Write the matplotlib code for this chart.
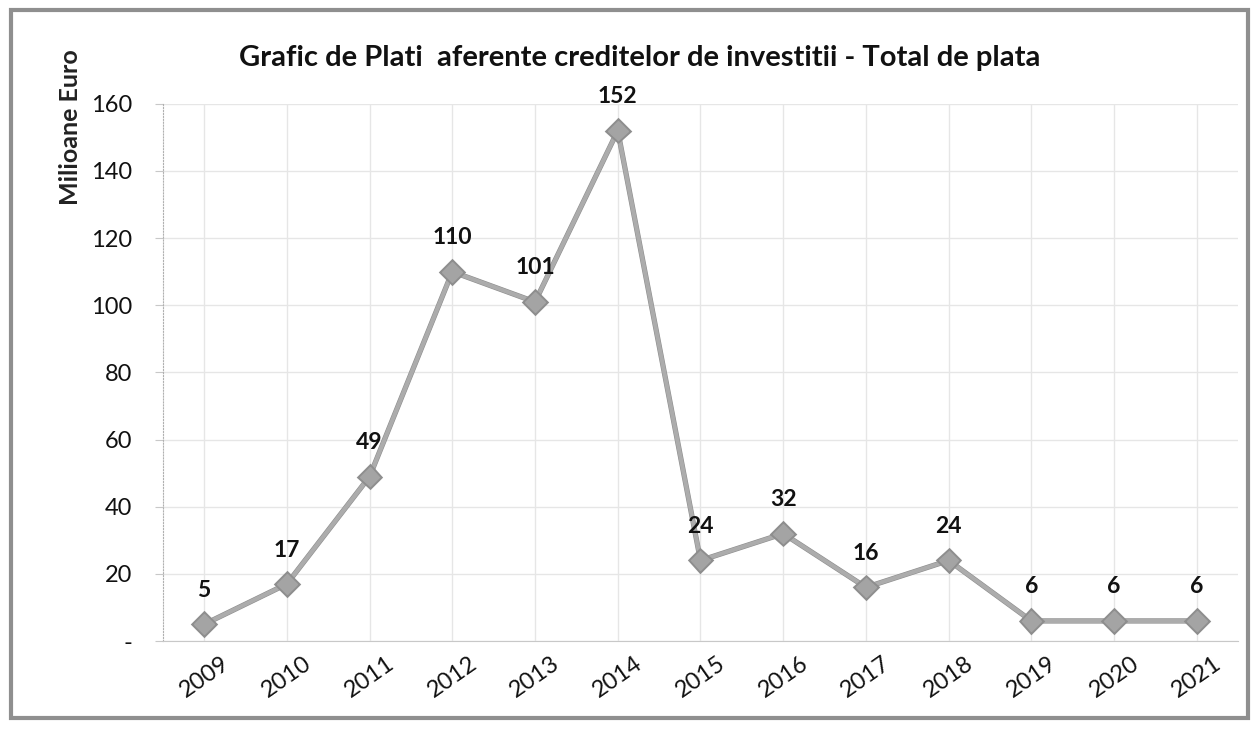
import numpy as np
from matplotlib import pyplot as plt
from matplotlib.patches import Rectangle
import matplotlib.patheffects as pe

# data
years = ['2009','2010','2011','2012','2013','2014','2015','2016','2017','2018','2019','2020','2021']
values = [5, 17, 49, 110, 101, 152, 24, 32, 16, 24, 6, 6, 6]
labels = ['5','17','49','110','101','152','24','32','16','24','6','6','6']
yticks = [0, 20, 40, 60, 80, 100, 120, 140, 160]

plt.rcParams['font.family'] = ['Lato', 'DejaVu Sans']

fig = plt.figure(figsize=(12.52, 7.31), dpi=100)
ax = fig.add_axes([0.130, 0.123, 0.859, 0.735])

x = np.arange(len(years))
ax.plot(x, values, color='#acacac', lw=3, marker='D', markersize=10,
        markerfacecolor='#a4a4a4', markeredgecolor='#a4a4a4', zorder=3,
        path_effects=[pe.Stroke(linewidth=3.8, foreground='#8e8e8e'), pe.Normal()])

for i in range(len(values)):
	ax.annotate(labels[i], (x[i], values[i]), xytext=(0, 34), textcoords='offset pixels',
	            ha='center', va='center', fontsize=16.5, fontweight='bold', color='#111111')

ax.set_xlim(-0.5, len(years) - 0.5)
ax.set_ylim(0, 160)
ax.set_xticks(x)
ax.set_xticklabels(years, rotation=35, fontsize=17, color='#111111')
ax.set_yticks(yticks)
ax.set_yticklabels(['-'] + [str(v) for v in yticks[1:]], fontsize=17, color='#111111')
ax.tick_params(axis='x', length=0, pad=8)
ax.tick_params(axis='y', length=6, color='#c8c8c8', pad=16)
for lab in ax.get_xticklabels():
	lab.set_ha('center')

ax.grid(True, color='#e6e6e6', lw=1)
ax.set_axisbelow(True)
for s in ['top', 'right']:
	ax.spines[s].set_visible(False)
ax.spines['left'].set_color('#b0b0b0')
ax.spines['left'].set_linestyle(':')
ax.spines['bottom'].set_color('#c8c8c8')

fig.text(0.511, 0.921, 'Grafic de Plati  aferente creditelor de investitii - Total de plata',
         ha='center', va='center', fontsize=21, fontweight='bold', color='#111111')
fig.text(0.056, 0.826, 'Milioane Euro', rotation=90, ha='center', va='center',
         fontsize=18, fontweight='bold', color='#222222')

# scanned frame around the chart
fig.patches.append(Rectangle((0.009, 0.018), 0.988, 0.968, transform=fig.transFigure,
                             fill=False, edgecolor='#8f8f8f', lw=3))

fig.savefig('out.png', dpi=100)
